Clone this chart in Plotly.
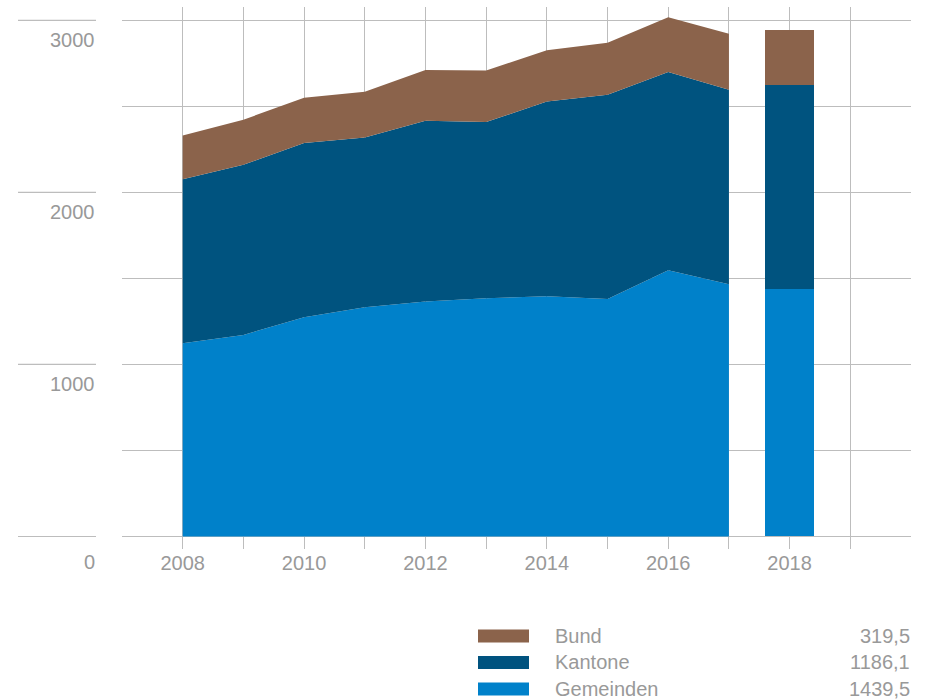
import plotly.graph_objects as go

# ---- data ----
years_area = [2008, 2009, 2010, 2011, 2012, 2013, 2014, 2015, 2016, 2017]
gemeinden = [1123, 1172, 1274, 1332, 1366, 1385, 1397, 1381, 1548, 1466]
kantone = [954, 989, 1013, 988, 1051, 1024, 1132, 1187, 1152, 1131]
bund = [254, 262, 263, 265, 295, 300, 298, 302, 319, 325]

year_bar = [2018]
gemeinden_2018 = [1439.5]
kantone_2018 = [1186.1]
bund_2018 = [319.5]

series_names = ["Bund", "Kantone", "Gemeinden"]
series_values_text = ["319,5", "1186,1", "1439,5"]

x_tickvals = [2008, 2009, 2010, 2011, 2012, 2013, 2014, 2015, 2016, 2017, 2018, 2019]
x_ticktext = ["2008", "", "2010", "", "2012", "", "2014", "", "2016", "", "2018", ""]
y_label_vals = [0, 1000, 2000, 3000]
y_label_text = ["0", "1000", "2000", "3000"]

# ---- style ----
C_BUND = "#8b634b"
C_KANT = "#00537f"
C_GEM = "#0081ca"
colors = {"Bund": C_BUND, "Kantone": C_KANT, "Gemeinden": C_GEM}
GRID = "#bdbdbd"
TXT = "#999999"
FONT = "Liberation Sans, Arial, sans-serif"
FS = 20

W, H = 929, 699
L, R, T, B = 122, 18, 7, 150
PW = W - L - R
PH = H - T - B


def px_x(px):
    return (px - L) / PW


def px_y(py):
    return (H - B - py) / PH


fig = go.Figure()

for name, vals, col in [("Gemeinden", gemeinden, C_GEM), ("Kantone", kantone, C_KANT), ("Bund", bund, C_BUND)]:
    fig.add_trace(go.Scatter(
        x=years_area, y=vals, name=name, mode="lines", stackgroup="a",
        line=dict(width=0, color=col), fillcolor=col, showlegend=False,
        hoverinfo="skip"))

for name, vals, col in [("Gemeinden", gemeinden_2018, C_GEM), ("Kantone", kantone_2018, C_KANT), ("Bund", bund_2018, C_BUND)]:
    fig.add_trace(go.Bar(x=year_bar, y=vals, name=name, marker=dict(color=col, line=dict(width=0)),
                         width=0.8, showlegend=False, hoverinfo="skip"))

shapes = []
annotations = []

# left short gridlines + y labels
for v, t in zip(y_label_vals, y_label_text):
    shapes.append(dict(type="line", xref="paper", yref="y", x0=px_x(18), x1=px_x(96), y0=v, y1=v,
                       line=dict(color=GRID, width=1.2), layer="below"))
    annotations.append(dict(xref="paper", yref="y", x=px_x(97), y=v, text=t, showarrow=False,
                            xanchor="right", yanchor="middle", yshift=(-26 if v == 0 else -20),
                            font=dict(family=FONT, size=FS, color=TXT)))

# legend
row_y = [636, 662.5, 689]
for name, vt, py in zip(series_names, series_values_text, row_y):
    shapes.append(dict(type="rect", xref="paper", yref="paper", x0=px_x(478), x1=px_x(529),
                       y0=px_y(py + 6.5), y1=px_y(py - 6.5), fillcolor=colors[name], line=dict(width=0)))
    annotations.append(dict(xref="paper", yref="paper", x=px_x(553), y=px_y(py), text=name, showarrow=False,
                            xanchor="left", yanchor="middle", font=dict(family=FONT, size=FS, color=TXT)))
    annotations.append(dict(xref="paper", yref="paper", x=px_x(912), y=px_y(py), text=vt, showarrow=False,
                            xanchor="right", yanchor="middle", font=dict(family=FONT, size=FS, color=TXT)))

fig.update_layout(
    width=W, height=H,
    margin=dict(l=L, r=R, t=T, b=B, pad=0),
    paper_bgcolor="white", plot_bgcolor="white",
    barmode="stack", showlegend=False,
    shapes=shapes, annotations=annotations,
    xaxis=dict(range=[2007, 2020], tickmode="array", tickvals=x_tickvals, ticktext=x_ticktext,
               showgrid=True, gridcolor=GRID, gridwidth=1.2, zeroline=False, showline=False,
               ticks="", ticklabelstandoff=0,
               tickfont=dict(family=FONT, size=FS, color=TXT)),
    yaxis=dict(range=[-72.7, 3078], tickmode="linear", tick0=0, dtick=500, showgrid=True,
               gridcolor=GRID, gridwidth=1.2, zeroline=False, showline=False, showticklabels=False,
               ticks=""),
)

fig.write_html("out.html", config={"displayModeBar": False},
               post_script="document.body.style.margin='0';document.body.style.padding='0';document.body.style.overflow='hidden';")
